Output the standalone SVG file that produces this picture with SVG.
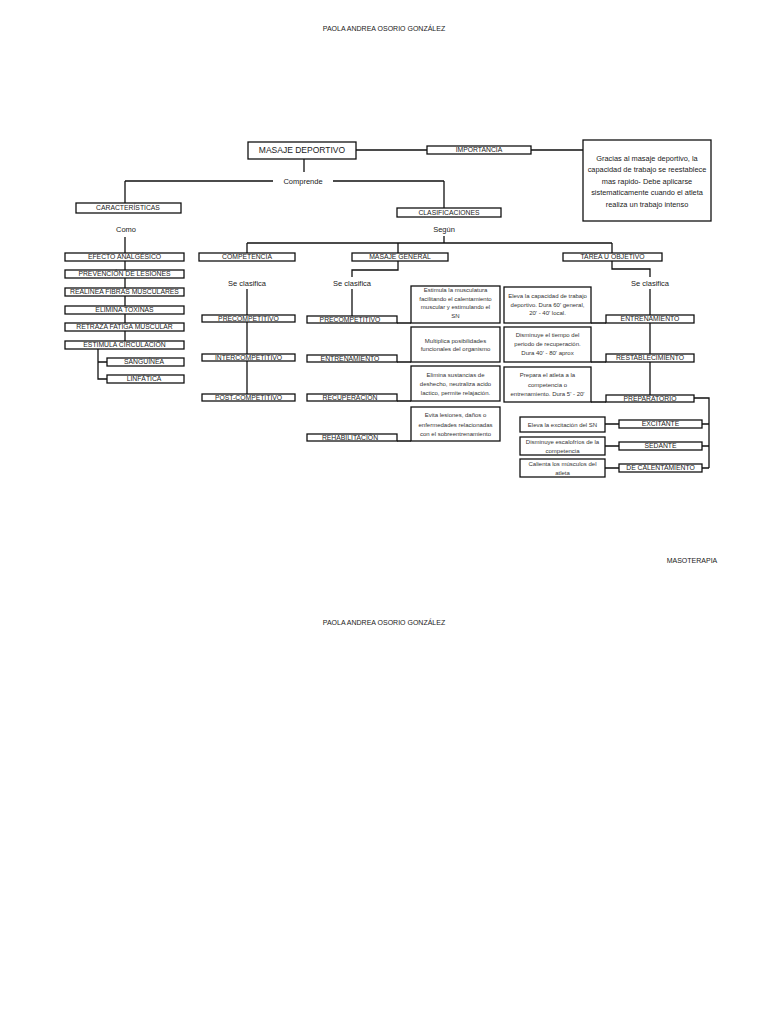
<svg xmlns="http://www.w3.org/2000/svg" width="768" height="1024" viewBox="0 0 768 1024">
<style>
text{font-family:"Liberation Sans","DejaVu Sans",sans-serif;fill:#1a1a1a;text-anchor:middle;dominant-baseline:central}
.box{fill:#fff;stroke:#111;stroke-width:1.3}
.lbl{font-size:6.8px}
.sm{font-size:6px;fill:#333}
.info{font-size:7.4px}
.word{font-size:7.5px}
.hdr{font-size:7px}
.title{font-size:8.5px}
#connectors path{fill:none;stroke:#111;stroke-width:1.3}
</style>
<rect width="768" height="1024" fill="#fff"/>
<text class="hdr" x="384" y="28">PAOLA ANDREA OSORIO GONZÁLEZ</text>
<text class="hdr" x="384" y="622">PAOLA ANDREA OSORIO GONZÁLEZ</text>
<text class="hdr" x="692" y="560">MASOTERAPIA</text>

<g id="connectors">
<path d="M356 150H427M531 150H583"/>
<path d="M304 159V172M125 181H273M333 181H444M125 181V203M444 181V208"/>
<path d="M125 237V341M98 349V379H107M98 362H107"/>
<path d="M444 236V243M247 243H612M247 243V253M398 243V253M612 243V253"/>
<path d="M247 289V394"/>
<path d="M398 261V270H352V277M352 289V316"/>
<path d="M612 261V269H650V277M650 289V395"/>
<path d="M397 323H411M397 362H411M397 401H411M397 441H411"/>
<path d="M591 323H606M591 362H606M591 402H606"/>
<path d="M694 398H709V468M709 424H702M709 446H702M709 468H702"/>
<path d="M605 424H619M605 446H619M605 468H619"/>
</g>

<g id="masaje-deportivo"><rect class="box" x="248" y="142" width="108" height="17"/><text class="title" x="302" y="150">MASAJE DEPORTIVO</text></g>
<g id="importancia"><rect class="box" x="427" y="146" width="104" height="8"/><text class="lbl" x="479" y="149.7">IMPORTANCIA</text></g>
<g id="importancia-texto"><rect class="box" x="583" y="140" width="128" height="81"/>
<text class="info" x="647" y="158">Gracias al masaje deportivo, la</text>
<text class="info" x="647" y="169.5">capacidad de trabajo se reestablece</text>
<text class="info" x="647" y="181">mas rapido-  Debe aplicarse</text>
<text class="info" x="647" y="192.5">sistematicamente cuando el atleta</text>
<text class="info" x="647" y="204">realiza un trabajo intenso</text></g>
<g id="comprende"><text class="word" x="303" y="181">Comprende</text></g>

<g id="caracteristicas"><rect class="box" x="76" y="203" width="105" height="10"/><text class="lbl" x="128" y="207.5">CARACTERÍSTICAS</text></g>
<g id="como"><text class="word" x="126" y="229">Como</text></g>
<g id="efecto"><rect class="box" x="65" y="253" width="119" height="8"/><text class="lbl" x="124.5" y="256.5">EFECTO ANALGÉSICO</text></g>
<g id="prevencion"><rect class="box" x="65" y="270" width="119" height="8"/><text class="lbl" x="124.5" y="273.5">PREVENCIÓN DE LESIONES</text></g>
<g id="realinea"><rect class="box" x="65" y="288" width="119" height="8"/><text class="lbl" x="124.5" y="291">REALINEA FIBRAS MUSCULARES</text></g>
<g id="elimina"><rect class="box" x="65" y="306" width="119" height="8"/><text class="lbl" x="124.5" y="309.5">ELIMINA TOXINAS</text></g>
<g id="retraza"><rect class="box" x="65" y="323" width="119" height="8"/><text class="lbl" x="124.5" y="326.5">RETRAZA FATIGA MUSCULAR</text></g>
<g id="estimula"><rect class="box" x="65" y="341" width="119" height="8"/><text class="lbl" x="124.5" y="344.5">ESTIMULA CIRCULACIÓN</text></g>
<g id="sanguinea"><rect class="box" x="107" y="358" width="77" height="8"/><text class="lbl" x="144" y="361.5">SANGUÍNEA</text></g>
<g id="linfatica"><rect class="box" x="107" y="375" width="77" height="8"/><text class="lbl" x="144" y="378.5">LINFÁTICA</text></g>

<g id="clasificaciones"><rect class="box" x="397" y="208" width="104" height="9"/><text class="lbl" x="449" y="212">CLASIFICACIONES</text></g>
<g id="segun"><text class="word" x="444" y="229">Según</text></g>

<g id="competencia"><rect class="box" x="199" y="253" width="96" height="8"/><text class="lbl" x="247" y="256.5">COMPETENCIA</text></g>
<g id="comp-se-clasifica"><text class="word" x="247" y="283">Se clasifica</text></g>
<g id="comp-precompetitivo"><rect class="box" x="202" y="315" width="93" height="7"/><text class="lbl" x="248.5" y="318">PRECOMPETITIVO</text></g>
<g id="comp-intercompetitivo"><rect class="box" x="202" y="354" width="93" height="7"/><text class="lbl" x="248.5" y="357">INTERCOMPETITIVO</text></g>
<g id="comp-postcompetitivo"><rect class="box" x="202" y="394" width="93" height="7"/><text class="lbl" x="248.5" y="397">POST-COMPETITIVO</text></g>

<g id="masaje-general"><rect class="box" x="352" y="253" width="96" height="8"/><text class="lbl" x="400" y="256.5">MASAJE GENERAL</text></g>
<g id="gen-se-clasifica"><text class="word" x="352" y="283">Se clasifica</text></g>
<g id="gen-precompetitivo"><rect class="box" x="307" y="316" width="90" height="7"/><text class="lbl" x="350" y="319">PRECOMPETITIVO</text></g>
<g id="gen-entrenamiento"><rect class="box" x="307" y="355" width="90" height="7"/><text class="lbl" x="350" y="358">ENTRENAMIENTO</text></g>
<g id="gen-recuperacion"><rect class="box" x="307" y="394" width="90" height="7"/><text class="lbl" x="350" y="397">RECUPERACIÓN</text></g>
<g id="gen-rehabilitacion"><rect class="box" x="307" y="434" width="90" height="7"/><text class="lbl" x="350" y="437">REHABILITACIÓN</text></g>
<g id="gen-t1"><rect class="box" x="411" y="286" width="89" height="37"/>
<text class="sm" x="455.5" y="290">Estimula la musculatura</text>
<text class="sm" x="455.5" y="298.5">facilitando el calentamiento</text>
<text class="sm" x="455.5" y="307">muscular y estimulando el</text>
<text class="sm" x="455.5" y="315.5">SN</text></g>
<g id="gen-t2"><rect class="box" x="411" y="327" width="89" height="35"/>
<text class="sm" x="455.5" y="340.5">Multiplica posibilidades</text>
<text class="sm" x="455.5" y="349">funcionales del organismo</text></g>
<g id="gen-t3"><rect class="box" x="411" y="366" width="89" height="35"/>
<text class="sm" x="455.5" y="374.5">Elimina sustancias de</text>
<text class="sm" x="455.5" y="383.5">deshecho, neutraliza acido</text>
<text class="sm" x="455.5" y="392.5">lactico, permite relajación.</text></g>
<g id="gen-t4"><rect class="box" x="411" y="407" width="89" height="34"/>
<text class="sm" x="455.5" y="415">Evita lesiones, daños o</text>
<text class="sm" x="455.5" y="424.5">enfermedades relacionadas</text>
<text class="sm" x="455.5" y="433.5">con el sobreentrenamiento</text></g>

<g id="tarea"><rect class="box" x="563" y="253" width="99" height="8"/><text class="lbl" x="612.5" y="256.5">TAREA U OBJETIVO</text></g>
<g id="tarea-se-clasifica"><text class="word" x="650" y="283">Se clasifica</text></g>
<g id="obj-entrenamiento"><rect class="box" x="606" y="315" width="88" height="8"/><text class="lbl" x="650" y="318.5">ENTRENAMIENTO</text></g>
<g id="obj-restablecimiento"><rect class="box" x="606" y="354" width="88" height="8"/><text class="lbl" x="650" y="357.5">RESTABLECIMIENTO</text></g>
<g id="obj-preparatorio"><rect class="box" x="606" y="395" width="88" height="7"/><text class="lbl" x="650" y="398">PREPARATORIO</text></g>
<g id="obj-t1"><rect class="box" x="504" y="287" width="87" height="36"/>
<text class="sm" x="547.5" y="296">Eleva la capacidad de trabajo</text>
<text class="sm" x="547.5" y="304.5">deportivo. Dura 60' general,</text>
<text class="sm" x="547.5" y="313">20' - 40' local.</text></g>
<g id="obj-t2"><rect class="box" x="504" y="327" width="87" height="35"/>
<text class="sm" x="547.5" y="334.5">Disminuye el tiempo del</text>
<text class="sm" x="547.5" y="344">periodo de recuperación.</text>
<text class="sm" x="547.5" y="353">Dura 40' - 80' aprox</text></g>
<g id="obj-t3"><rect class="box" x="504" y="367" width="87" height="35"/>
<text class="sm" x="547.5" y="375">Prepara el atleta a la</text>
<text class="sm" x="547.5" y="384.5">competencia o</text>
<text class="sm" x="547.5" y="393.5">entrenamiento. Dura 5' - 20'</text></g>
<g id="excitante"><rect class="box" x="619" y="420" width="83" height="8"/><text class="lbl" x="660.5" y="423.5">EXCITANTE</text></g>
<g id="sedante"><rect class="box" x="619" y="442" width="83" height="8"/><text class="lbl" x="660.5" y="445.5">SEDANTE</text></g>
<g id="calentamiento"><rect class="box" x="619" y="464" width="83" height="8"/><text class="lbl" x="660.5" y="467.5">DE CALENTAMIENTO</text></g>
<g id="excitante-t"><rect class="box" x="520" y="417" width="85" height="15"/><text class="sm" x="562.5" y="424.5">Eleva la excitación del SN</text></g>
<g id="sedante-t"><rect class="box" x="520" y="437" width="85" height="18"/>
<text class="sm" x="562.5" y="441.5">Disminuye escalofríos de la</text>
<text class="sm" x="562.5" y="450.5">competencia</text></g>
<g id="calentamiento-t"><rect class="box" x="520" y="459" width="85" height="18"/>
<text class="sm" x="562.5" y="463.5">Calienta los músculos del</text>
<text class="sm" x="562.5" y="472.5">atleta</text></g>
</svg>
